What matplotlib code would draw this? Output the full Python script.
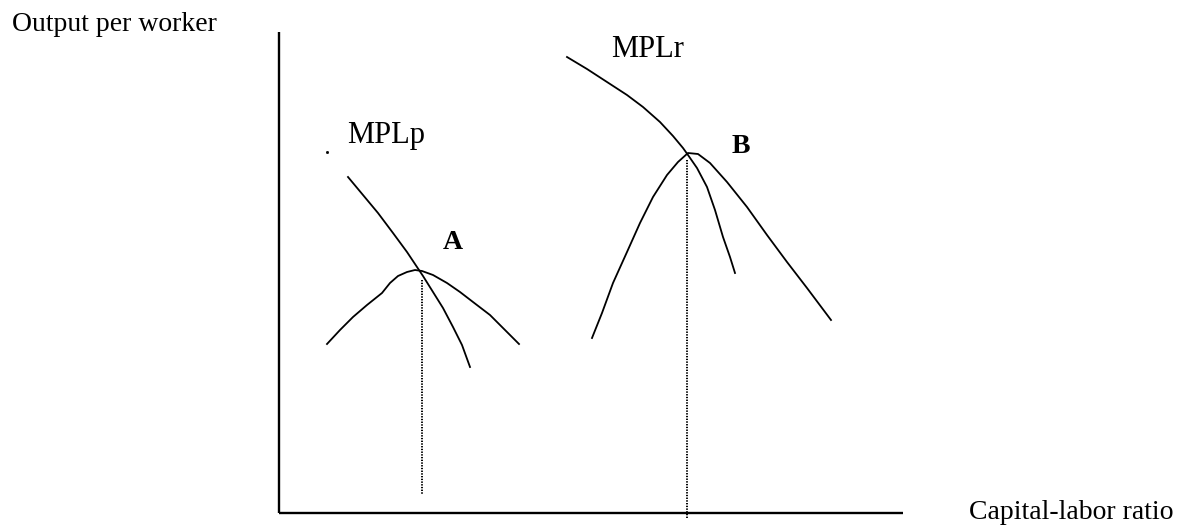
import numpy as np
import matplotlib.pyplot as plt

plt.rcParams['font.family'] = ['Liberation Serif', 'DejaVu Serif']

# Points, in pixel units (x right, y down)
mplp_x = [348, 363, 378, 393, 407, 417, 423, 433, 443, 453, 462, 470]
mplp_y = [177, 195, 213, 233, 252, 267, 276, 292, 308, 327, 345, 367]

apl_a_x = [327, 340, 353, 367, 377, 382, 390, 398, 407, 415, 422, 433,
           447, 460, 473, 490, 505, 519]
apl_a_y = [344, 330, 317, 305, 297, 293, 283, 276, 272, 270, 271, 275,
           283, 292, 302, 315, 330, 344]

mplr_x = [567, 587, 607, 627, 643, 660, 673, 683, 688, 697, 707, 715,
          723, 730, 735]
mplr_y = [57, 69, 82, 95, 107, 122, 136, 148, 155, 168, 187, 210,
          237, 257, 273]

apl_b_x = [592, 602, 613, 627, 640, 653, 667, 678, 688, 698, 710, 727,
           747, 767, 787, 807, 831]
apl_b_y = [338, 313, 283, 252, 223, 197, 175, 162, 153, 154, 163, 182,
           207, 235, 262, 288, 320]

# vertical guide lines: x, top, bottom
guide_a = (422, 280, 495)
guide_b = (687, 160, 519)

# axes corner and ends
origin = (279, 513)
y_top = 32
x_end = 903

labels = [
    ("Output per worker", 12, 31, 20, 'normal'),
    ("Capital-labor ratio", 969, 519, 20, 'normal'),
    ("MPLp", 347, 143, 22, 'normal'),
    ("MPLr", 611, 57, 22, 'normal'),
    ("A", 443, 249, 20, 'bold'),
    ("B", 732, 153, 20, 'bold'),
]

fig = plt.figure(figsize=(11.92, 5.31), dpi=100)
ax = fig.add_axes([0, 0, 1, 1])
ax.set_xlim(0, 1192)
ax.set_ylim(531, 0)
ax.axis('off')

# axes
ax.plot([origin[0], origin[0]], [y_top, origin[1]], color='black', lw=1.7,
        solid_capstyle='butt')
ax.plot([origin[0], x_end], [origin[1], origin[1]], color='black', lw=1.7,
        solid_capstyle='butt')

# curves
for xs, ys in [(mplp_x, mplp_y), (apl_a_x, apl_a_y),
               (mplr_x, mplr_y), (apl_b_x, apl_b_y)]:
    ax.plot(xs, ys, color='black', lw=1.3, solid_joinstyle='round')

# dotted guides
for gx, gtop, gbot in [guide_a, guide_b]:
    ax.plot([gx, gx], [gtop, gbot], color='black', lw=1.4,
            linestyle=(0, (0.7, 0.7)))

# stray dot near MPLp
ax.plot([327], [152], marker='s', ms=1, color='black')

for txt, x, y, size, weight in labels:
    ax.text(x, y, txt, fontsize=size, fontweight=weight, ha='left',
            va='baseline', color='black')

fig.savefig('out.png', dpi=100)
